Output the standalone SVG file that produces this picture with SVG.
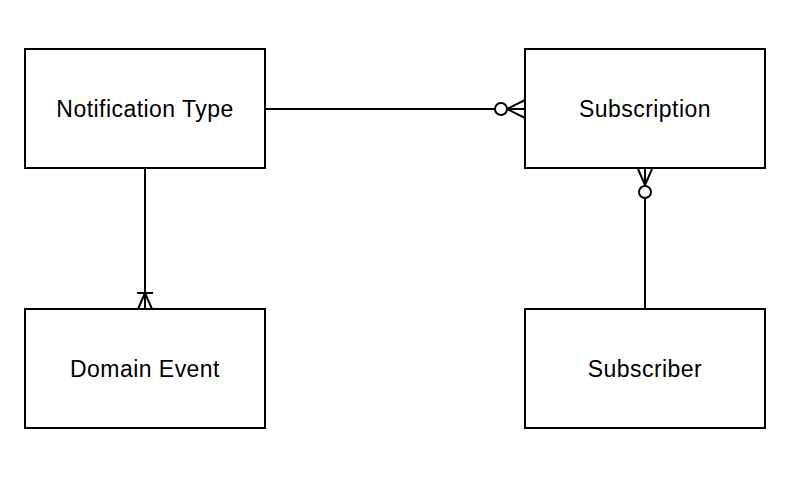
<svg xmlns="http://www.w3.org/2000/svg" width="810" height="486" viewBox="0 0 810 486">
<style>
.box{fill:#fff;stroke:#000;stroke-width:2}
.lbl{font-family:"Liberation Sans",Arial,sans-serif;font-size:23px;letter-spacing:0.45px;fill:#000;text-anchor:middle}
.ln{fill:none;stroke:#000;stroke-width:2}
.circ{fill:#fff;stroke:#000;stroke-width:2}
</style>
<rect width="810" height="486" fill="#fff"/>
<g id="connectors">
<path class="ln" d="M265 109 H525 M507 109 L525 100 M507 109 L525 118"/>
<circle class="circ" cx="501" cy="109" r="6"/>
<path class="ln" d="M645 169 V309 M645 185 L638 169 M645 185 L652 169"/>
<circle class="circ" cx="645" cy="192" r="6"/>
<path class="ln" d="M145 169 V309 M145 293 L138 309 M145 293 L152 309 M137 293 H153"/>
</g>
<g id="notification-type"><rect class="box" x="25" y="49" width="240" height="119"/><text class="lbl" x="145" y="117">Notification Type</text></g>
<g id="subscription"><rect class="box" x="525" y="49" width="240" height="119"/><text class="lbl" x="645" y="117">Subscription</text></g>
<g id="domain-event"><rect class="box" x="25" y="309" width="240" height="119"/><text class="lbl" x="145" y="377">Domain Event</text></g>
<g id="subscriber"><rect class="box" x="525" y="309" width="240" height="119"/><text class="lbl" x="645" y="377">Subscriber</text></g>
</svg>
